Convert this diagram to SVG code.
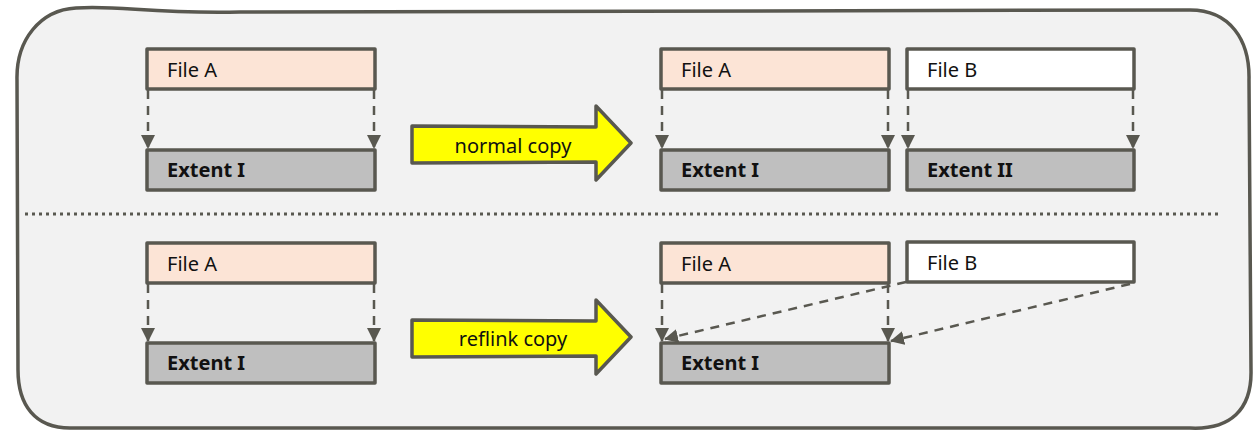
<svg xmlns="http://www.w3.org/2000/svg" width="1257" height="432" viewBox="0 0 1257 432">
<defs>
<style>
.box{stroke:#595850;stroke-width:3.5;stroke-linejoin:round}
.file{fill:#fce4d6}
.fileb{fill:#ffffff}
.ext{fill:#bfbfbf}
.lbl{font-family:"Noto Sans","Open Sans",sans-serif;font-size:20px;fill:#111}
.bold{font-weight:bold}
.dash{fill:none;stroke:#595850;stroke-width:2.5;stroke-dasharray:9 7}
.big{fill:#ffff00;stroke:#595850;stroke-width:3.5;stroke-linejoin:round}
</style>
<marker id="ah" viewBox="0 0 14 14" refX="13" refY="7" markerWidth="14" markerHeight="14" markerUnits="userSpaceOnUse" orient="auto">
<path d="M0,0 L14,7 L0,14 Z" fill="#595850"/>
</marker>
</defs>
<g id="container">
<path d="M76,8 C120,5 150,14 240,12 L1190,10 C1230,10 1250,40 1249,80 L1251,370 C1252,410 1230,430 1190,428 L70,428 C35,428 18,405 18,370 L17,80 C16,40 40,10 76,8 Z" fill="#f2f2f2" stroke="#595850" stroke-width="3.5"/>
<line x1="25" y1="214" x2="1222" y2="214" stroke="#595850" stroke-width="3" stroke-dasharray="3 4"/>
</g>
<g id="connectors">
<line class="dash" x1="148" y1="90" x2="148" y2="148" marker-end="url(#ah)"/>
<line class="dash" x1="374" y1="90" x2="374" y2="148" marker-end="url(#ah)"/>
<line class="dash" x1="662" y1="90" x2="662" y2="148" marker-end="url(#ah)"/>
<line class="dash" x1="888" y1="90" x2="888" y2="148" marker-end="url(#ah)"/>
<line class="dash" x1="908" y1="90" x2="908" y2="148" marker-end="url(#ah)"/>
<line class="dash" x1="1133" y1="90" x2="1133" y2="148" marker-end="url(#ah)"/>
<line class="dash" x1="148" y1="284" x2="148" y2="341" marker-end="url(#ah)"/>
<line class="dash" x1="374" y1="284" x2="374" y2="341" marker-end="url(#ah)"/>
<line class="dash" x1="662" y1="284" x2="662" y2="341" marker-end="url(#ah)"/>
<line class="dash" x1="888" y1="284" x2="888" y2="341" marker-end="url(#ah)"/>
<line class="dash" x1="906" y1="282" x2="665" y2="339" marker-end="url(#ah)"/>
<line class="dash" x1="1130" y1="284" x2="891" y2="341" marker-end="url(#ah)"/>
</g>
<g id="normal-copy">
<path class="big" d="M412,126 L596,127 L596,106 L631,143 L596,180 L596,162 L412,163 Z"/>
<text class="lbl" x="513" y="153" text-anchor="middle">normal copy</text>
</g>
<g id="reflink-copy">
<path class="big" d="M412,320 L596,321 L596,300 L631,337 L596,374 L596,356 L412,357 Z"/>
<text class="lbl" x="513" y="346" text-anchor="middle">reflink copy</text>
</g>
<g id="top-fileA">
<rect class="box file" x="147" y="49" width="228" height="40"/>
<text class="lbl" x="167" y="77">File A</text>
</g>
<g id="top-extentI">
<rect class="box ext" x="147" y="150" width="228" height="40"/>
<text class="lbl bold" x="167" y="177">Extent I</text>
</g>
<g id="top-r-fileA">
<rect class="box file" x="661" y="49" width="228" height="40"/>
<text class="lbl" x="681" y="77">File A</text>
</g>
<g id="top-r-fileB">
<rect class="box fileb" x="907" y="49" width="227" height="40"/>
<text class="lbl" x="927" y="77">File B</text>
</g>
<g id="top-r-extentI">
<rect class="box ext" x="661" y="150" width="228" height="40"/>
<text class="lbl bold" x="681" y="177">Extent I</text>
</g>
<g id="top-r-extentII">
<rect class="box ext" x="907" y="150" width="227" height="40"/>
<text class="lbl bold" x="927" y="177">Extent II</text>
</g>
<g id="bot-fileA">
<rect class="box file" x="147" y="243" width="228" height="40"/>
<text class="lbl" x="167" y="271">File A</text>
</g>
<g id="bot-extentI">
<rect class="box ext" x="147" y="343" width="228" height="40"/>
<text class="lbl bold" x="167" y="370">Extent I</text>
</g>
<g id="bot-r-fileA">
<rect class="box file" x="661" y="243" width="228" height="40"/>
<text class="lbl" x="681" y="271">File A</text>
</g>
<g id="bot-r-fileB">
<rect class="box fileb" x="907" y="242" width="227" height="40"/>
<text class="lbl" x="927" y="270">File B</text>
</g>
<g id="bot-r-extentI">
<rect class="box ext" x="661" y="343" width="228" height="40"/>
<text class="lbl bold" x="681" y="370">Extent I</text>
</g>
</svg>
